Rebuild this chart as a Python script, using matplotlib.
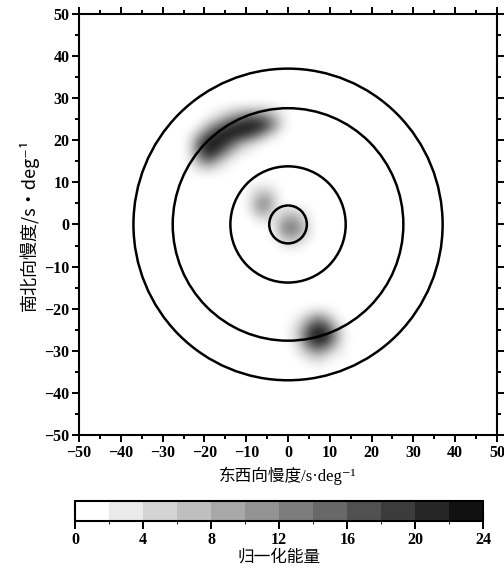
import numpy as np
import matplotlib
matplotlib.use("Agg")
import matplotlib.pyplot as plt
from matplotlib.colors import LinearSegmentedColormap, ListedColormap, BoundaryNorm
from matplotlib.patches import Circle
from matplotlib.ticker import MultipleLocator

plt.rcParams['font.family'] = ['Liberation Serif', 'Noto Sans CJK SC', 'DejaVu Serif']
plt.rcParams['axes.unicode_minus'] = True

# normalised energy, 2 s/deg cells, rows listed top -> bottom
# cluster A: x -24..0, y 12..28
energy_a = [
    [0, 0, 0, 1, 2, 4, 5, 6, 6, 5, 3, 1],
    [0, 0, 2, 5, 9, 13, 16, 18, 17, 14, 8, 2],
    [0, 3, 9, 15, 19, 22, 23, 23, 22, 17, 9, 2],
    [3, 10, 18, 22, 23, 22, 20, 17, 12, 6, 2, 0],
    [5, 17, 23, 23, 20, 14, 8, 4, 2, 0, 0, 0],
    [5, 16, 22, 19, 12, 6, 2, 1, 0, 0, 0, 0],
    [3, 10, 14, 9, 4, 1, 0, 0, 0, 0, 0, 0],
    [1, 3, 4, 2, 1, 0, 0, 0, 0, 0, 0, 0],
]
# cluster B: x -10..-2, y 0..10
energy_b = [
    [1, 2, 2, 1],
    [2, 6, 7, 3],
    [3, 10, 11, 4],
    [2, 8, 8, 3],
    [0, 2, 3, 1],
]
# cluster C: x -4..6, y -6..4
energy_c = [
    [2, 4, 5, 3, 1],
    [3, 8, 10, 7, 2],
    [3, 12, 13, 10, 3],
    [2, 7, 9, 6, 2],
    [0, 2, 3, 2, 0],
]
# cluster D: x 0..14, y -34..-20
energy_d = [
    [0, 1, 3, 5, 4, 1, 0],
    [1, 4, 10, 15, 12, 5, 1],
    [2, 7, 17, 22, 20, 11, 3],
    [2, 8, 19, 23, 22, 13, 3],
    [1, 5, 12, 17, 14, 7, 2],
    [0, 2, 5, 7, 5, 2, 1],
    [0, 0, 1, 2, 1, 0, 0],
]
# lower-left corners (x, y) of each block
clusters = [(energy_a, -24, 12), (energy_b, -10, 0), (energy_c, -4, -6), (energy_d, 0, -34)]

circle_radii = [4.5, 13.8, 27.6, 37.0]
cbar_ticks = [0, 4, 8, 12, 16, 20, 24]

grid = np.zeros((50, 50))
for block, x0, y0 in clusters:
    b = np.flipud(np.array(block, dtype=float))
    i = (y0 + 50) // 2
    j = (x0 + 50) // 2
    grid[i:i + b.shape[0], j:j + b.shape[1]] = b

cmap = LinearSegmentedColormap.from_list('gw', ['#ffffff', '#111111'])
cmap.set_under('white')
levels = np.arange(0, 26, 2)
cmap_disc = ListedColormap([cmap(k / 11) for k in range(12)])

fig = plt.figure(figsize=(5.04, 5.73), dpi=100)
ax = fig.add_axes([0.157, 0.2408, 0.829, 0.735])
cax = fig.add_axes([0.149, 0.0908, 0.81, 0.035])

ax.imshow(grid, origin='lower', extent=[-50, 50, -50, 50], cmap=cmap,
          vmin=0, vmax=24, interpolation='bicubic', aspect='auto')

for r in circle_radii:
    ax.add_patch(Circle((0, 0), r, fill=False, ec='black', lw=1.8, zorder=3))

ax.set_xlim(-50, 50)
ax.set_ylim(-50, 50)
ax.xaxis.set_major_locator(MultipleLocator(10))
ax.yaxis.set_major_locator(MultipleLocator(10))
ax.xaxis.set_minor_locator(MultipleLocator(5))
ax.yaxis.set_minor_locator(MultipleLocator(5))
ax.tick_params(which='both', direction='out', top=True, right=True, width=1.4,
               labelsize=11.5, pad=2)
ax.tick_params(which='major', length=5)
ax.tick_params(which='minor', length=3)
for lab in ax.get_xticklabels() + ax.get_yticklabels():
    lab.set_fontweight('bold')
for s in ax.spines.values():
    s.set_linewidth(1.5)

ax.set_xlabel('东西向慢度/s·deg⁻¹', fontsize=12, labelpad=4, fontweight='medium')
ax.set_ylabel('南北向慢度/s·deg⁻¹', fontsize=13, labelpad=4,
              family=['Noto Sans CJK SC', 'DejaVu Sans'])

sm = plt.cm.ScalarMappable(norm=BoundaryNorm(levels, 12), cmap=cmap_disc)
cb = fig.colorbar(sm, cax=cax, orientation='horizontal', ticks=cbar_ticks)
cb.outline.set_linewidth(1.5)
cax.tick_params(direction='out', length=6, width=1.4, labelsize=11.5, pad=2)
for lab in cax.get_xticklabels():
    lab.set_fontweight('bold')
cb.set_label('归一化能量', fontsize=12, labelpad=1)

fig.savefig('out.png', dpi=100)
